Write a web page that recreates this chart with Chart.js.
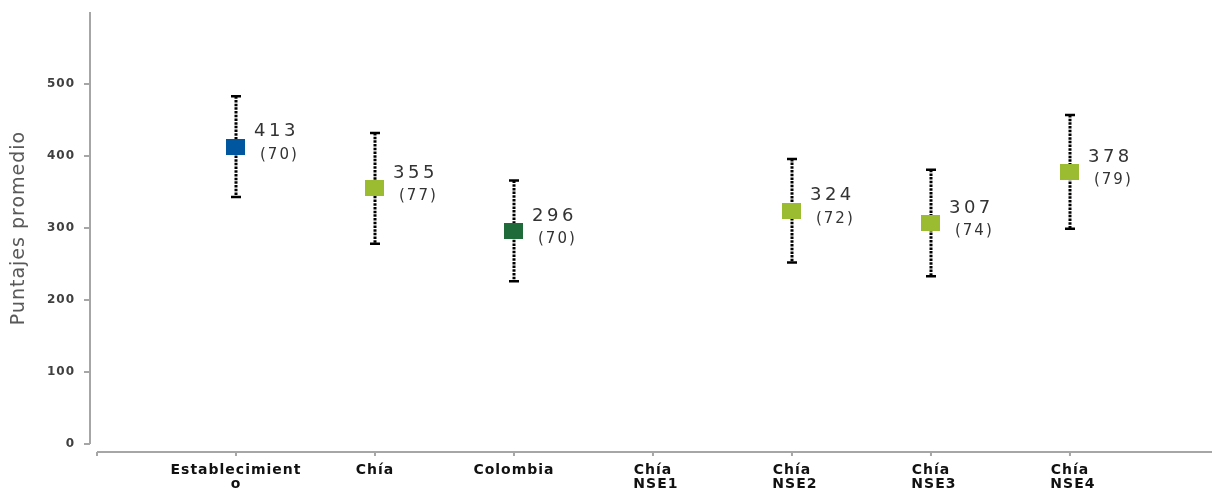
<!DOCTYPE html>
<html>
<head>
<meta charset="utf-8">
<script src="https://cdn.jsdelivr.net/npm/chart.js@4.4.1/dist/chart.umd.min.js"></script>
<style>
  html, body { margin: 0; padding: 0; background: #fff; }
  #chart { display: block; }
</style>
</head>
<body>
<canvas id="chart" width="1212" height="491"></canvas>
<script>
// categories on the x axis (index 1..7 on a linear scale, 0 is the empty start)
const categories = ['Establecimiento', 'Chía', 'Colombia', 'Chía NSE1', 'Chía NSE2', 'Chía NSE3', 'Chía NSE4']
const tickLabels = [['Establecimient', 'o'], 'Chía', 'Colombia', ['Chía', ' NSE1'], ['Chía', ' NSE2'], ['Chía', ' NSE3'], ['Chía', ' NSE4']]
// average scores and standard deviations (NSE1 has no data)
const means = [413, 355, 296, null, 324, 307, 378]
const sds = [70, 77, 70, null, 72, 74, 79]
const yTicks = [0, 100, 200, 300, 400, 500]

const BLUE = '#00569f'
const LIGHT = '#9bbb30'
const DARK = '#1f6b3a'
const markerColors = [BLUE, LIGHT, DARK, LIGHT, LIGHT, LIGHT, LIGHT]

function makeMarker(color) {
  const c = document.createElement('canvas')
  c.width = 19
  c.height = 16
  const g = c.getContext('2d')
  g.fillStyle = color
  g.fillRect(0, 0, 19, 16)
  return c
}
const markers = markerColors.map(makeMarker)

// axis frame like the original: y axis a bit left of the x axis start, x axis below zero
const framePlugin = {
  id: 'frame',
  beforeDraw(chart) {
    chart.ctx.letterSpacing = '1px'
  },
  afterDraw(chart) {
    const ctx = chart.ctx
    const x = chart.scales.x
    const y = chart.scales.y
    ctx.save()
    ctx.strokeStyle = '#a6a6a6'
    ctx.lineWidth = 2
    const yAxisX = x.getPixelForValue(0) - 7
    ctx.beginPath()
    ctx.moveTo(yAxisX, y.getPixelForValue(600))
    ctx.lineTo(yAxisX, y.getPixelForValue(0))
    yTicks.forEach(v => {
      const py = y.getPixelForValue(v)
      ctx.moveTo(yAxisX - 6, py)
      ctx.lineTo(yAxisX, py)
    })
    ctx.stroke()
    const xAxisY = y.getPixelForValue(0) + 8
    ctx.beginPath()
    ctx.moveTo(x.getPixelForValue(0), xAxisY)
    ctx.lineTo(chart.width, xAxisY)
    for (let i = 0; i <= categories.length; i++) {
      const px = x.getPixelForValue(i)
      ctx.moveTo(px, xAxisY)
      ctx.lineTo(px, xAxisY + 4)
    }
    ctx.stroke()
    ctx.restore()
  },
  beforeDatasetsDraw(chart) {
    // error bars: mean +/- sd
    const ctx = chart.ctx
    const x = chart.scales.x
    const y = chart.scales.y
    ctx.save()
    ctx.strokeStyle = '#000'
    means.forEach((m, i) => {
      if (m === null) return
      const px = Math.round(x.getPixelForValue(i + 1))
      const top = y.getPixelForValue(m + sds[i])
      const bot = y.getPixelForValue(m - sds[i])
      ctx.lineWidth = 3
      ctx.setLineDash([2.5, 1.2])
      ctx.beginPath()
      ctx.moveTo(px, top)
      ctx.lineTo(px, bot)
      ctx.stroke()
      ctx.setLineDash([])
      ctx.lineWidth = 2.5
      ctx.beginPath()
      ctx.moveTo(px - 5, top)
      ctx.lineTo(px + 5, top)
      ctx.moveTo(px - 5, bot)
      ctx.lineTo(px + 5, bot)
      ctx.stroke()
    })
    ctx.restore()
  },
  afterDatasetsDraw(chart) {
    const ctx = chart.ctx
    const x = chart.scales.x
    const y = chart.scales.y
    ctx.save()
    ctx.fillStyle = '#333'
    ctx.textAlign = 'left'
    ctx.textBaseline = 'middle'
    means.forEach((m, i) => {
      if (m === null) return
      const px = x.getPixelForValue(i + 1)
      const py = y.getPixelForValue(m)
      ctx.font = '18px "DejaVu Sans"'
      ctx.letterSpacing = '3.5px'
      ctx.fillText(String(m), px + 18, py - 15)
      ctx.font = '15px "DejaVu Sans"'
      ctx.letterSpacing = '2px'
      ctx.fillText('(' + sds[i] + ')', px + 24, py + 8)
    })
    ctx.restore()
  }
}

const chart = new Chart('chart', {
  type: 'scatter',
  data: {
    datasets: [{
      data: means.map((m, i) => ({x: i + 1, y: m})),
      pointStyle: ctx => markers[ctx.dataIndex],
      pointRadius: 9,
      pointHoverRadius: 9
    }]
  },
  options: {
    responsive: false,
    animation: false,
    layout: {padding: {top: 12, left: 0, right: 0, bottom: 0}},
    plugins: {
      legend: {display: false},
      tooltip: {enabled: false}
    },
    scales: {
      x: {
        type: 'linear',
        min: 0,
        max: 7.95,
        grid: {display: false, drawTicks: false},
        border: {display: false},
        afterBuildTicks: s => { s.ticks = categories.map((c, i) => ({value: i + 1})) },
        afterFit: s => {
          s.height = 47
          s.paddingLeft = 0
          s.paddingRight = 0
        },
        ticks: {
          autoSkip: false,
          maxRotation: 0,
          padding: 20,
          color: '#111',
          font: {family: 'DejaVu Sans', size: 14, weight: 'bold', lineHeight: 0.95},
          callback: v => tickLabels[v - 1]
        }
      },
      y: {
        min: 0,
        max: 600,
        grid: {display: false, drawTicks: false},
        border: {display: false},
        afterBuildTicks: s => { s.ticks = yTicks.map(v => ({value: v})) },
        afterFit: s => {
          s.width = 97
          s.paddingTop = 0
          s.paddingBottom = 0
        },
        ticks: {
          padding: 22,
          color: '#404040',
          font: {family: 'DejaVu Sans', size: 12, weight: 'bold'}
        },
        title: {
          display: true,
          text: 'Puntajes promedio',
          color: '#595959',
          padding: {top: 8, bottom: 0},
          font: {family: 'DejaVu Sans', size: 19}
        }
      }
    }
  },
  plugins: [framePlugin]
})
</script>
</body>
</html>
